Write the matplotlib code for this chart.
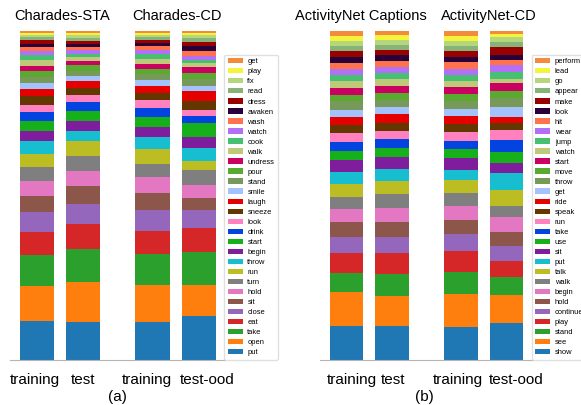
import numpy as np
import matplotlib
matplotlib.use("Agg")
import matplotlib.pyplot as plt

plt.rcParams['font.family'] = ['Liberation Sans', 'DejaVu Sans']

# share of each query verb, bottom segment first
cha_labels = ["put", "open", "take", "eat", "close", "sit", "hold", "turn", "run", "throw",
              "begin", "start", "drink", "look", "sneeze", "laugh", "smile", "stand", "pour", "undress",
              "walk", "cook", "watch", "wash", "awaken", "dress", "read", "fix", "play", "get"]
sta_train = [38.5, 35.3, 30.7, 23.3, 20.0, 15.7, 15.3, 13.7, 12.7, 13.3, 10.3, 9.4, 9.0, 7.6, 8.4,
             7.3, 6.0, 6.0, 5.7, 5.6, 5.4, 5.0, 4.0, 4.0, 3.6, 3.7, 2.7, 2.6, 1.7, 2.0]
sta_test = [37.8, 40.0, 32.7, 24.7, 20.6, 17.7, 15.3, 14.7, 15.0, 10.3, 9.4, 10.0, 9.3, 7.3, 6.7,
            6.7, 5.6, 5.0, 5.4, 4.6, 3.4, 3.3, 3.7, 3.3, 3.3, 3.0, 2.7, 2.7, 2.3, 2.0]
ccd_train = [37.5, 37.3, 30.7, 23.0, 20.7, 17.3, 15.7, 13.3, 14.7, 12.6, 9.7, 9.7, 9.3, 7.7, 7.6,
             7.0, 6.0, 5.7, 5.0, 5.0, 5.0, 5.0, 4.3, 4.0, 3.0, 3.0, 2.7, 2.3, 2.0, 1.7]
ccd_ood = [43.5, 31.0, 33.3, 23.4, 18.6, 11.4, 13.3, 15.3, 9.0, 13.0, 11.0, 13.7, 6.7, 6.6, 8.4,
           10.0, 5.6, 6.7, 6.0, 5.7, 4.3, 3.3, 4.0, 4.4, 5.0, 4.3, 4.0, 2.7, 2.3, 2.0]

anet_labels = ["show", "see", "stand", "play", "continue", "hold", "begin", "walk", "talk", "put",
               "sit", "use", "take", "run", "speak", "ride", "get", "throw", "move", "start",
               "watch", "jump", "wear", "hit", "look", "make", "appear", "go", "lead", "perform"]
anet_train = [33.0, 34.0, 19.3, 20.0, 16.3, 14.4, 13.3, 12.3, 12.7, 12.3, 11.7, 9.0, 8.7, 9.0, 8.0,
              8.0, 7.6, 8.4, 6.6, 6.7, 6.7, 6.0, 6.3, 6.0, 6.0, 6.3, 4.7, 5.0, 5.0, 5.0]
anet_test = [33.6, 30.0, 22.0, 20.7, 16.3, 15.0, 14.0, 13.7, 13.3, 11.7, 12.3, 8.7, 9.0, 7.7, 8.3,
             9.0, 7.3, 6.7, 7.0, 7.3, 6.4, 6.3, 6.0, 5.7, 6.0, 5.6, 5.0, 5.0, 5.0, 3.7]
acd_train = [32.6, 33.0, 21.7, 21.0, 16.7, 14.6, 13.4, 13.6, 12.4, 10.6, 12.0, 9.0, 7.7, 8.7, 8.3,
             8.3, 7.0, 7.4, 7.3, 6.7, 6.6, 6.0, 6.0, 6.4, 5.6, 5.7, 5.0, 5.3, 5.0, 4.7]
acd_ood = [36.0, 28.6, 17.4, 16.3, 15.3, 14.0, 14.4, 11.3, 16.0, 17.3, 10.0, 11.0, 12.0, 9.4, 7.0,
           6.3, 10.0, 9.3, 6.4, 8.3, 4.3, 6.7, 7.0, 5.0, 5.3, 8.0, 4.7, 4.7, 3.3, 3.0]

split_names = ["training", "test", "training", "test-ood"]
x = [0, 1, 2.5, 3.5]

colors = ["#1f77b4", "#ff7f0e", "#2ca02c", "#d62728", "#9467bd", "#8c564b", "#e377c2", "#7f7f7f",
          "#bcbd22", "#17becf", "#7e1e9c", "#15b01a", "#0343df", "#ff81c0", "#653700", "#e50000",
          "#a4c2fe", "#779a5a", "#5aaa32", "#cb0162", "#bfc97a", "#47c072", "#b36ff6", "#ff724c",
          "#28003a", "#990000", "#88b378", "#b5d67a", "#f4f43c", "#f48a3c"]

fig = plt.figure(figsize=(5.81, 4.05), dpi=100)
ax1 = fig.add_axes([0.0172, 0.1123, 0.3709, 0.8111])
ax2 = fig.add_axes([0.5508, 0.1123, 0.3666, 0.8111])


def draw(ax, bars, labels, titles, title_x, label_x):
    data = np.array(bars, dtype=float)
    data = data / data.sum(axis=1, keepdims=True)
    bottom = np.zeros(len(bars))
    handles = []
    for i in range(data.shape[1]):
        h = ax.bar(x, data[:, i], bottom=bottom, width=0.74, color=colors[i], label=labels[i])
        handles.append(h)
        bottom += data[:, i]
    ax.set_ylim(0, 1)
    # the split names sit a little off the bar centres in the original
    ax.set_xticks(label_x)
    ax.set_xticklabels(split_names, fontsize=11)
    ax.tick_params(axis='x', length=0, pad=9.5)
    ax.set_yticks([])
    for s in ["left", "right", "top"]:
        ax.spines[s].set_visible(False)
    ax.spines["bottom"].set_color("#b5b5b5")
    for t, tx in zip(titles, title_x):
        ax.text(tx, 1.047, t, transform=ax.get_xaxis_transform(), ha='center', va='center',
                fontsize=10.5)
    ax.legend(handles[::-1], labels[::-1], loc='lower left', bbox_to_anchor=(0.995, 0),
              borderaxespad=0, fontsize=5.4, labelspacing=0.37, handlelength=2.0,
              handletextpad=0.6, borderpad=0.45, edgecolor='#d9d9d9')


draw(ax1, [sta_train, sta_test, ccd_train, ccd_ood], cha_labels,
     ["Charades-STA", "Charades-CD"], [0.54, 3.03], [-0.05, 1.0, 2.39, 3.69])
draw(ax2, [anet_train, anet_test, acd_train, acd_ood], anet_labels,
     ["ActivityNet Captions", "ActivityNet-CD"], [0.31, 3.12], [0.11, 1.02, 2.43, 3.71])
ax1.set_xlim(-0.58, 4.08)
ax2.set_xlim(-0.58, 4.08)

fig.text(117 / 581, 1 - 397 / 405, "(a)", ha='center', va='center', fontsize=11)
fig.text(424 / 581, 1 - 397 / 405, "(b)", ha='center', va='center', fontsize=11)

fig.savefig("out.png", dpi=100)
